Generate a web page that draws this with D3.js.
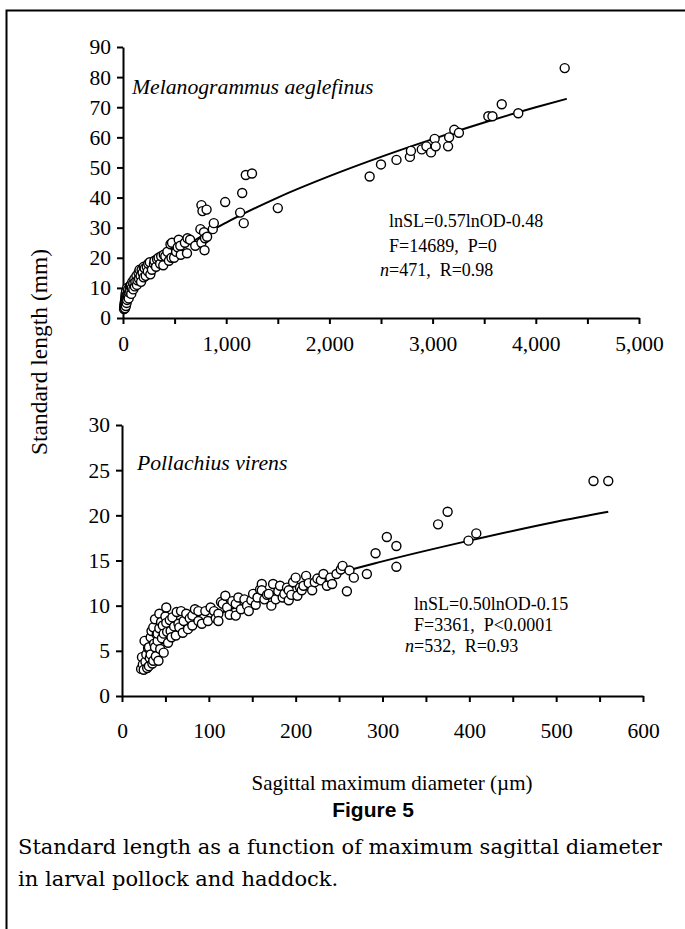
<!DOCTYPE html>
<html>
<head>
<meta charset="utf-8">
<script src="https://cdn.jsdelivr.net/npm/d3@7"></script>
<style>
  html, body { margin: 0; padding: 0; background: #fff; }
  svg { display: block; }
  .axis path, .axis line { stroke: #000; stroke-width: 2; }
  .axis .tick text { font-family: "Liberation Serif", "Times New Roman", serif; font-size: 21.5px; fill: #000; }
  .serif { font-family: "Liberation Serif", "Times New Roman", serif; fill: #000; white-space: pre; }
</style>
</head>
<body>
<svg id="chart" width="685" height="929"></svg>
<script>
// Haddock (top panel): sagittal diameter (um) vs standard length (mm)
const haddockPoints = [
  [10,3],[12,4],[15,3.5],[15,5],[18,4.5],[20,6],[20,3.2],[22,7],[25,5.5],[25,8],[28,4],[30,6.5],[30,9],
  [35,5],[35,7.5],[40,6],[40,10],[45,8],[50,7],[50,9.5],[55,6.5],[60,8.5],[65,10.5],[70,9],[75,11],
  [80,8],[85,10],[90,12],[100,9.5],[100,11.5],[110,13],[115,10.5],[120,12],[130,14],[135,11],[140,12.5],
  [150,15],[155,13],[160,16],[170,14],[175,12],[180,16],[190,15],[200,17],[200,13.5],[210,16.5],[220,14],
  [230,17],[240,15.5],[245,18],[260,18.5],[265,14.5],[280,16],[300,18],[305,19],[320,17],[330,19.5],
  [345,20],[360,18],[370,20.5],[390,17.5],[395,21],[410,20.5],[430,22],[445,19],[460,24.5],[470,20],
  [475,25],[495,20],[515,22],[530,23.5],[540,26],[555,24],[560,21],[600,25],[620,21.5],[625,26.5],
  [650,26],[700,24],[750,29.5],[760,37.5],[760,25],[770,35.5],[785,28.5],[790,22.5],[795,26.5],[810,36],
  [815,27],[870,29.5],[880,31.5],[990,38.5],[1135,35],[1155,41.5],[1170,31.5],[1190,47.5],[1250,48],
  [1500,36.5],[2390,47],[2500,51],[2650,52.5],[2780,53.5],[2790,55.5],[2895,56],[2940,57],[2985,55],
  [3020,59.5],[3030,57],[3150,57],[3160,60],[3210,62.5],[3255,61.5],[3540,67],[3580,67],[3670,71],
  [3830,68],[4280,83]
];
// Fitted curve of the haddock panel
const haddockFit = [
  [20,3.4],[50,5.8],[100,8.6],[200,12.7],[400,18.8],[700,25.9],[1000,31.7],[1500,40.0],
  [2000,47.1],[2500,53.5],[3000,59.4],[3500,64.9],[4000,70.0],[4300,72.8]
];
// Pollock (bottom panel)
const pollockPoints = [
  [22,3],[23,4.3],[24,3.5],[25,2.9],[26,6.1],[27,3.8],[28,4.6],[29,3.1],[30,5.3],[31,3.3],[31,5.4],
  [32,4.2],[33,6.5],[33,4.6],[34,7.2],[35,3.6],[36,7.6],[36,3.9],[37,5.8],[38,8.5],[38,5.4],[39,4.4],
  [40,6.8],[41,6.1],[41,6.9],[42,3.9],[43,9.1],[43,7.5],[44,5.2],[45,8.2],[46,6.4],[47,7.8],[48,6.9],
  [48,4.8],[50,8.8],[51,9.8],[51,8.1],[52,7.1],[53,5.9],[55,8.4],[56,7.2],[57,6.5],[58,8.7],[60,7.7],
  [62,6.7],[63,9.3],[65,8.0],[66,7.6],[68,9.4],[70,7.0],[71,8.3],[74,9.1],[76,7.4],[78,8.6],[81,7.8],
  [81,8.9],[84,9.6],[88,9.4],[88,8.3],[92,8.0],[96,9.4],[99,8.3],[102,9.8],[106,9.4],[108,8.6],[111,9.1],
  [111,8.3],[114,10.4],[116,10.2],[119,11.1],[121,9.8],[124,9.0],[127,10.5],[131,10.2],[131,8.9],
  [134,10.9],[137,9.6],[141,10.7],[144,10.0],[146,9.4],[149,10.6],[151,11.3],[154,10.1],[156,10.9],
  [159,11.8],[161,12.4],[161,11.7],[164,10.7],[167,11.2],[169,11.3],[172,10.0],[174,12.4],[177,10.7],
  [180,11.6],[182,12.2],[185,10.9],[187,11.3],[190,12.0],[192,11.7],[192,10.6],[195,11.2],[197,12.6],
  [200,13.1],[202,11.1],[205,12.0],[207,11.7],[209,12.2],[212,13.3],[215,12.5],[219,11.7],[222,12.6],
  [225,13.0],[229,12.8],[232,13.5],[236,12.2],[240,13.1],[242,12.4],[247,13.5],[252,14.0],[254,14.4],
  [259,11.6],[262,13.9],[267,13.1],[282,13.5],[292,15.8],[305,17.6],[316,16.6],[316,14.3],[364,19.0],
  [375,20.4],[399,17.2],[408,18.0],[543,23.8],[560,23.8]
];
const pollockFit = [
  [22,4.0],[50,6.1],[100,8.6],[150,10.5],[200,12.2],[300,14.9],[400,17.2],[500,19.3],[560,20.4]
];

const haddockXTicks = d3.range(0, 5001, 500);
const haddockYTicks = d3.range(0, 91, 10);
const pollockXTicks = d3.range(0, 601, 50);
const pollockYTicks = d3.range(0, 31, 5);

const haddockStats = ["lnSL=0.57lnOD-0.48", "F=14689,  P=0", "=471,  R=0.98"];
const pollockStats = ["lnSL=0.50lnOD-0.15", "F=3361,  P<0.0001", "=532,  R=0.93"];

const svg = d3.select("#chart");
svg.append("rect").attr("width", 685).attr("height", 929).attr("fill", "#fff");

// frame (top and left edges only)
svg.append("path")
  .attr("d", "M6.5,929V10.5H685")
  .attr("fill", "none").attr("stroke", "#000").attr("stroke-width", 2);

const fmtComma = d3.format(",");

function panel(opts) {
  const x = d3.scaleLinear().domain(opts.xDomain).range(opts.xRange);
  const y = d3.scaleLinear().domain(opts.yDomain).range(opts.yRange);

  svg.append("g")
    .attr("class", "axis")
    .attr("transform", `translate(0,${opts.yRange[0]})`)
    .call(d3.axisBottom(x)
      .tickValues(opts.xTicks)
      .tickSize(6).tickSizeOuter(0).tickPadding(opts.xPad)
      .tickFormat(opts.xFormat));

  svg.append("g")
    .attr("class", "axis")
    .attr("transform", `translate(${opts.xRange[0]},0)`)
    .call(d3.axisLeft(y)
      .tickValues(opts.yTicks)
      .tickSize(6).tickSizeOuter(0).tickPadding(6));

  const line = d3.line()
    .x(d => x(d[0])).y(d => y(d[1]))
    .curve(d3.curveMonotoneX);

  svg.append("path")
    .datum(opts.fit)
    .attr("d", line)
    .attr("fill", "none").attr("stroke", "#000").attr("stroke-width", 2);

  svg.append("g")
    .selectAll("circle")
    .data(opts.points)
    .join("circle")
    .attr("cx", d => x(d[0]))
    .attr("cy", d => y(d[1]))
    .attr("r", 4.5)
    .attr("fill", "#fff")
    .attr("stroke", "#000")
    .attr("stroke-width", 1.4);

  svg.append("text")
    .attr("class", "serif")
    .attr("x", opts.title.x).attr("y", opts.title.y)
    .attr("font-size", 21.7).attr("font-style", "italic")
    .text(opts.title.text);

  const st = opts.stats;
  st.lines.forEach((t, i) => {
    const el = svg.append("text")
      .attr("class", "serif")
      .attr("x", i === 2 ? st.x - 9 : st.x)
      .attr("y", st.y + i * st.dy)
      .attr("font-size", 18);
    if (i === 2) {
      el.append("tspan").attr("font-style", "italic").text("n");
      el.append("tspan").text(t);
    } else {
      el.text(t);
    }
  });
}

panel({
  xDomain: [0, 5000], xRange: [123, 639],
  yDomain: [0, 90], yRange: [318, 47],
  xTicks: haddockXTicks, yTicks: haddockYTicks, xPad: 12,
  xFormat: d => (d % 1000 === 0 ? fmtComma(d) : ""),
  points: haddockPoints, fit: haddockFit,
  title: { text: "Melanogrammus aeglefinus", x: 132, y: 94 },
  stats: { lines: haddockStats, x: 389, y: 227, dy: 24.5 }
});

panel({
  xDomain: [0, 600], xRange: [122, 643],
  yDomain: [0, 30], yRange: [696, 425],
  xTicks: pollockXTicks, yTicks: pollockYTicks, xPad: 21,
  xFormat: d => (d % 100 === 0 ? d : ""),
  points: pollockPoints, fit: pollockFit,
  title: { text: "Pollachius virens", x: 137, y: 470 },
  stats: { lines: pollockStats, x: 414, y: 610, dy: 21 }
});

// shared axis titles
svg.append("text")
  .attr("class", "serif")
  .attr("transform", "translate(47,352) rotate(-90)")
  .attr("text-anchor", "middle")
  .attr("font-size", 23.5)
  .text("Standard length (mm)");

svg.append("text")
  .attr("class", "serif")
  .attr("x", 392).attr("y", 790)
  .attr("text-anchor", "middle")
  .attr("font-size", 21)
  .text("Sagittal maximum diameter (\u00b5m)");

// figure caption
svg.append("text")
  .attr("x", 373).attr("y", 817)
  .attr("text-anchor", "middle")
  .attr("font-family", "Liberation Sans, Arial, sans-serif")
  .attr("font-weight", "bold")
  .attr("font-size", 21)
  .text("Figure 5");

const captionLines = [
  "Standard length as a function of maximum sagittal diameter",
  "in larval pollock and haddock."
];
svg.append("g")
  .selectAll("text")
  .data(captionLines)
  .join("text")
  .attr("x", 18)
  .attr("y", (d, i) => 854 + i * 32)
  .attr("font-family", "DejaVu Serif, serif")
  .attr("font-size", 21)
  .attr("fill", "#000")
  .text(d => d);
</script>
</body>
</html>
